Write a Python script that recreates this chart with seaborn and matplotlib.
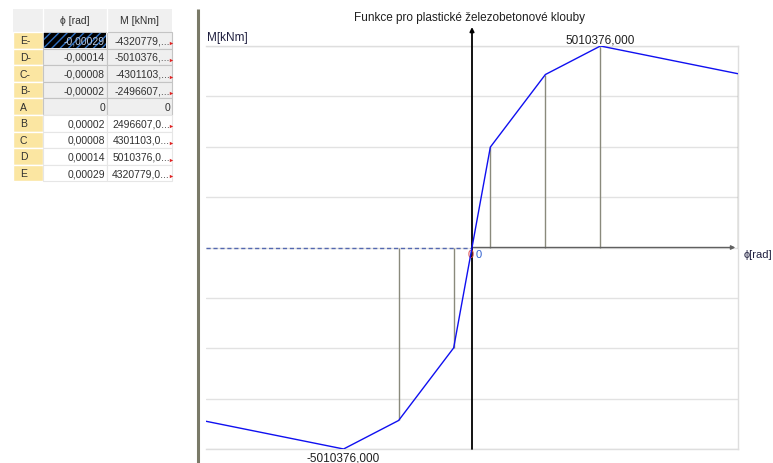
import numpy as np
import pandas as pd
import matplotlib
matplotlib.use("Agg")
import matplotlib.pyplot as plt
from matplotlib.patches import Rectangle
import seaborn as sns

# Table / chart data
point_names = ["E-", "D-", "C-", "B-", "A", "B", "C", "D", "E"]
phi_rad = [-0.00029, -0.00014, -0.00008, -0.00002, 0.0, 0.00002, 0.00008, 0.00014, 0.00029]
moment_knm = [-4320779, -5010376, -4301103, -2496607, 0, 2496607, 4301103, 5010376, 4320779]
col_headers = ["\u03d5 [rad]", "M [kNm]"]
title = "Funkce pro plastické železobetonové klouby"
x_label = "\u03d5[rad]"
y_label = "M[kNm]"

sns.set_theme(style="white")
plt.rcParams['font.family'] = ['Liberation Sans', 'DejaVu Sans']

W, H = 773, 464
fig = plt.figure(figsize=(W / 100, H / 100), dpi=100)
fig.patch.set_facecolor("white")


def px_box(left, top, right, bottom):
    return [left / W, 1 - bottom / H, (right - left) / W, (bottom - top) / H]


# overlay in pixel coordinates for the table and free texts
ov = fig.add_axes([0, 0, 1, 1])
ov.set_xlim(0, W)
ov.set_ylim(H, 0)
ov.axis("off")

# --- left table ---
cols = [13, 43, 107, 172]
top0, hdr_h, row_h = 10, 23, 16.6
fs_tab = 7.5
ov.add_patch(Rectangle((cols[0], top0), cols[3] - cols[0], hdr_h, fc="#f0f0f0", ec="none"))
for j, h in enumerate(col_headers):
    ov.text((cols[j + 1] + cols[j + 2]) / 2, top0 + hdr_h / 2, h, ha="center", va="center",
            fontsize=fs_tab, color="#303030")
    ov.plot([cols[j + 1]] * 2, [top0, top0 + hdr_h], color="white", lw=1)

n_neg = point_names.index("A")
for i, name in enumerate(point_names):
    y0 = top0 + hdr_h + i * row_h
    yc = y0 + row_h / 2
    ov.add_patch(Rectangle((cols[0], y0), cols[1] - cols[0], row_h, fc="#fbe6a2", ec="white", lw=1))
    bg = "#efefef" if i <= n_neg else "white"
    line = "#c4c4c4" if i <= n_neg else "#e6e6e6"
    for j in (1, 2):
        ov.add_patch(Rectangle((cols[j], y0), cols[j + 1] - cols[j], row_h, fc=bg, ec=line, lw=0.8))
    ov.text(cols[0] + 7, yc, name, ha="left", va="center", fontsize=fs_tab, color="#303030")

    phi_txt = "0" if phi_rad[i] == 0 else f"{phi_rad[i]:.5f}".replace(".", ",")
    m_full = f"{moment_knm[i]:.3f}".replace(".", ",")
    m_txt = "0" if moment_knm[i] == 0 else m_full[:9] + "..."
    phi_col = "#303030"
    if i == 0:
        ov.add_patch(Rectangle((cols[1] + 1, y0 + 1), cols[2] - cols[1] - 2, row_h - 2,
                               fc="black", ec="#2f6fc0", hatch="////", lw=0))
        phi_col = "#b8c8e0"
    ov.text(cols[2] - 2, yc, phi_txt, ha="right", va="center", fontsize=fs_tab, color=phi_col)
    ov.text(cols[3] - 2, yc, m_txt, ha="right", va="center", fontsize=fs_tab, color="#303030")
    if moment_knm[i] != 0:
        ov.scatter([cols[3] - 1.5], [yc + 3], marker=">", s=6, color="#e02020", lw=0)

# separator
ov.plot([198, 198], [10, H], color="#7a7a68", lw=2.2, solid_capstyle="butt")

# --- chart ---
ax = fig.add_axes(px_box(206, 47, 738, 450))
ax.patch.set_alpha(0)
df = pd.DataFrame({"phi": phi_rad, "M": moment_knm})
m_max = max(abs(m) for m in moment_knm)
ax.set_xlim(min(phi_rad), max(phi_rad))
ax.set_ylim(-m_max, m_max)

ax.set_yticks(np.linspace(-m_max, m_max, 9))
ax.set_xticks([])
ax.yaxis.grid(True, color="#e2e2e2", lw=1)
ax.tick_params(left=False, labelleft=False, bottom=False, labelbottom=False)
for side in ("top", "right", "bottom"):
    ax.spines[side].set_color("#dedede")
    ax.spines[side].set_linewidth(1)
ax.spines["left"].set_visible(False)

# drop lines
for p, m, name in zip(phi_rad, moment_knm, point_names):
    if m != 0 and name not in ("D-", "E-"):
        ax.vlines(p, 0, m, color="#8a8a7c", lw=1, zorder=2)

# x axis: dashed left, solid arrow right
ax.hlines(0, min(phi_rad), 0, color="#5468b0", lw=1, linestyles=(0, (3, 2)), zorder=2)
ax.annotate("", xy=(max(phi_rad) * 0.99, 0), xytext=(0, 0),
            arrowprops=dict(arrowstyle="-|>", color="#606060", lw=1, mutation_scale=6,
                            shrinkA=0, shrinkB=0), zorder=2)
# y axis arrow
ax.annotate("", xy=(0, 1.047), xycoords=("data", "axes fraction"), xytext=(0, 0),
            textcoords=("data", "axes fraction"),
            arrowprops=dict(arrowstyle="-|>", color="black", lw=1.3, mutation_scale=6,
                            shrinkA=0, shrinkB=0), annotation_clip=False, zorder=3)

sns.lineplot(data=df, x="phi", y="M", sort=False, color="#1010f0", lw=1, ax=ax, zorder=4)
ax.set_xlabel("")
ax.set_ylabel("")

i_max = int(np.argmax(moment_knm))
i_min = int(np.argmin(moment_knm))
ax.annotate(f"{moment_knm[i_max]:.3f}".replace(".", ","), xy=(phi_rad[i_max], moment_knm[i_max]),
            xytext=(0, 5), textcoords="offset points", ha="center", va="center",
            fontsize=8.5, color="#202020", annotation_clip=False)
ax.annotate(f"{moment_knm[i_min]:.3f}".replace(".", ","), xy=(phi_rad[i_min], moment_knm[i_min]),
            xytext=(0, -6), textcoords="offset points", ha="center", va="center",
            fontsize=8.5, color="#202020", annotation_clip=False)
ax.annotate("0", xy=(0, 0), xytext=(-1, -5), textcoords="offset points", ha="center",
            va="center", fontsize=8, color="#e05050", zorder=3)
ax.annotate("0", xy=(0, 0), xytext=(5, -5), textcoords="offset points", ha="center",
            va="center", fontsize=8, color="#3060d0", zorder=5)

ov.text(470, 18, title, ha="center", va="center", fontsize=8.5, color="#202020")
ov.text(207, 38, y_label, ha="left", va="center", fontsize=8.5, color="#202040")
ov.text(744, 255, x_label, ha="left", va="center", fontsize=8, color="#202040")

fig.savefig("out.png", dpi=100)
